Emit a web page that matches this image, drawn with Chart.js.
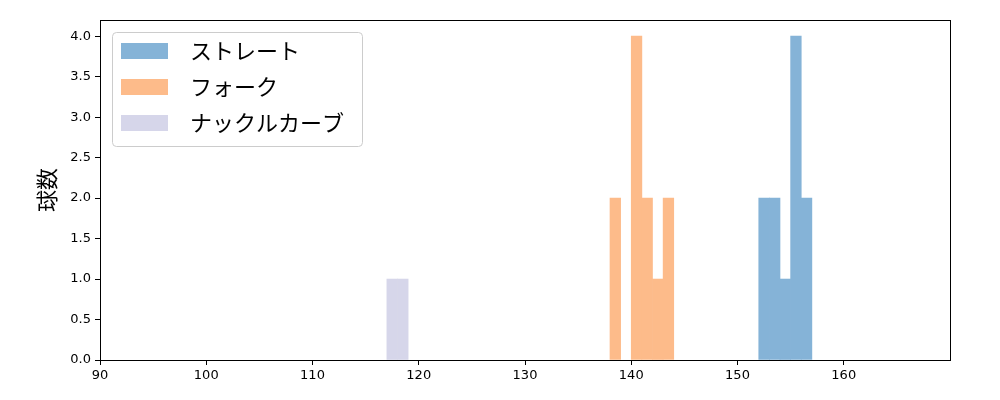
<!DOCTYPE html>
<html>
<head>
<meta charset="utf-8">
<script src="https://cdn.jsdelivr.net/npm/chart.js@4"></script>
<style>
  html, body { margin: 0; padding: 0; background: #fff; }
</style>
</head>
<body>
<canvas id="chart" width="1000" height="400"></canvas>
<script>
// ヒストグラムのデータ（ビン左端と球数）
const seriesNames = ['ストレート', 'フォーク', 'ナックルカーブ']
const straightBins = [152, 153, 154, 155, 156]
const straightCounts = [2, 2, 1, 4, 2]
const forkBins = [138, 140, 141, 142, 143]
const forkCounts = [2, 4, 2, 1, 2]
const knuckleBins = [117, 118]
const knuckleCounts = [1, 1]
const yTicks = [0, 0.5, 1, 1.5, 2, 2.5, 3, 3.5, 4]

const colors = ['#85b3d7', '#fdbb8a', '#d6d6ea']

// ビンの中央に棒を置く
function toPoints(bins, counts) {
	return bins.map((b, i) => ({ x: b + 0.5, y: counts[i] }))
}

const JP_FONT = '"Noto Sans CJK JP", "DejaVu Sans", sans-serif'

// 枠線
const framePlugin = {
	id: 'frame',
	afterDraw(chart) {
		const a = chart.chartArea
		const ctx = chart.ctx
		ctx.save()
		ctx.strokeStyle = '#000'
		ctx.lineWidth = 1
		ctx.strokeRect(a.left + 0.5, a.top + 0.5, a.right - a.left, a.bottom - a.top)
		ctx.restore()
	}
}

// 凡例（グラフ内左上）
const legendPlugin = {
	id: 'innerLegend',
	afterDraw(chart) {
		const ctx = chart.ctx
		const a = chart.chartArea
		const x = a.left + 12, y = a.top + 12, w = 250, h = 114
		ctx.save()
		ctx.fillStyle = 'rgba(255,255,255,0.8)'
		ctx.strokeStyle = '#cccccc'
		ctx.lineWidth = 1
		ctx.beginPath()
		ctx.roundRect(x + 0.5, y + 0.5, w, h, 4)
		ctx.fill()
		ctx.stroke()
		ctx.font = '22px ' + JP_FONT
		ctx.textBaseline = 'middle'
		seriesNames.forEach((name, i) => {
			const cy = y + 19 + i * 36
			ctx.fillStyle = colors[i]
			ctx.fillRect(x + 9, cy - 8, 47, 16)
			ctx.fillStyle = '#000'
			ctx.fillText(name, x + 78, cy)
		})
		ctx.restore()
	}
}

new Chart(document.getElementById('chart'), {
	type: 'bar',
	data: {
		datasets: [
			{ label: seriesNames[0], data: toPoints(straightBins, straightCounts), backgroundColor: colors[0] },
			{ label: seriesNames[1], data: toPoints(forkBins, forkCounts), backgroundColor: colors[1] },
			{ label: seriesNames[2], data: toPoints(knuckleBins, knuckleCounts), backgroundColor: colors[2] },
		]
	},
	options: {
		responsive: false,
		animation: false,
		devicePixelRatio: 1,
		layout: { padding: { left: 0, right: 50, top: 20, bottom: 0 } },
		datasets: {
			bar: {
				grouped: false,
				barPercentage: 1,
				categoryPercentage: 1,
				borderWidth: 0,
			}
		},
		plugins: {
			legend: { display: false },
			tooltip: { enabled: false }
		},
		scales: {
			x: {
				type: 'linear',
				offset: false,
				min: 90,
				max: 170,
				grid: { offset: false, drawOnChartArea: false, drawTicks: true, tickLength: 5, tickColor: '#000' },
				border: { display: true, color: '#000' },
				ticks: {
					stepSize: 10,
					color: '#000',
					font: { family: '"DejaVu Sans"', size: 13 },
					padding: 3,
					maxRotation: 0
				},
				afterBuildTicks(scale) {
					scale.ticks = scale.ticks.filter(t => t.value < 170)
				},
				afterFit(scale) { scale.height = 40 }
			},
			y: {
				min: 0,
				max: 4.2,
				grid: { drawOnChartArea: false, drawTicks: true, tickLength: 5, tickColor: '#000' },
				border: { display: true, color: '#000' },
				afterBuildTicks(scale) {
					scale.ticks = yTicks.map(v => ({ value: v }))
				},
				ticks: {
					color: '#000',
					font: { family: '"DejaVu Sans"', size: 13 },
					padding: 4,
					callback: v => Number(v).toFixed(1)
				},
				title: {
					display: true,
					text: '球数',
					color: '#000',
					font: { family: JP_FONT, size: 22 },
					padding: { top: 33, bottom: 6 }
				},
				afterFit(scale) { scale.width = 100 }
			}
		}
	},
	plugins: [framePlugin, legendPlugin]
})
</script>
</body>
</html>
